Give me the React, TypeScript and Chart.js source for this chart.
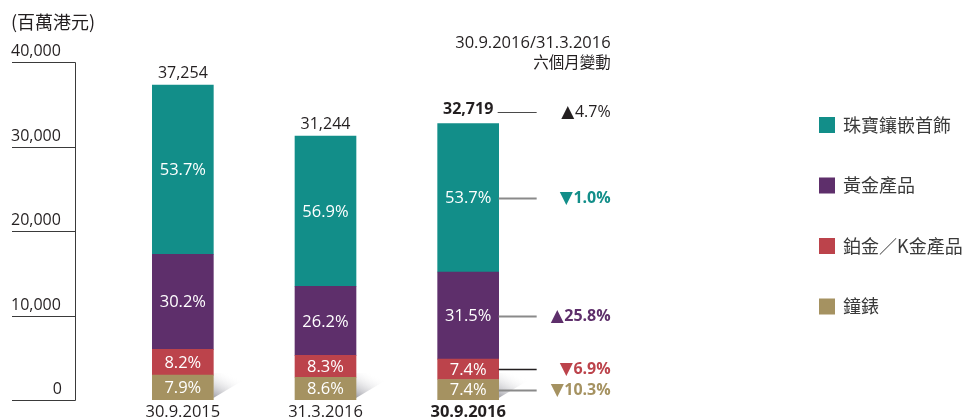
import React, { useEffect, useRef } from "react";
import { Chart, registerables } from "chart.js";

Chart.register(...registerables);

const categories = ["30.9.2015", "31.3.2016", "30.9.2016"];
const unitLabel = "(百萬港元)";
const headerLine1 = "30.9.2016/31.3.2016";
const headerLine2 = "六個月變動";

// bottom to top stacking order
const seriesNames = ["鐘錶", "鉑金／K金產品", "黃金產品", "珠寶鑲嵌首飾"];
const watches = [2943, 2687, 2422];
const platinum = [3055, 2593, 2421];
const goldProducts = [11251, 8186, 10306];
const jewellery = [20005, 17778, 17570];
const totals = [37254, 31244, 32719];
const totalLabels = ["37,254", "31,244", "32,719"];

const watchesPct = ["7.9%", "8.6%", "7.4%"];
const platinumPct = ["8.2%", "8.3%", "7.4%"];
const goldPct = ["30.2%", "26.2%", "31.5%"];
const jewelleryPct = ["53.7%", "56.9%", "53.7%"];

const totalChangeSymbol = "▲";
const totalChange = "4.7%";
const seriesChangeSymbols = ["▼", "▼", "▲", "▼"];
const seriesChanges = ["10.3%", "6.9%", "25.8%", "1.0%"];

const yTicks = [0, 10000, 20000, 30000, 40000];
const yTickLabels = ["0", "10,000", "20,000", "30,000", "40,000"];

const COLORS = ["#a59261", "#bc434b", "#5e2f6b", "#128e89"];
const LINE_COLORS = ["#8a8a8a", "#231f20", "#8a8a8a", "#8a8a8a"];
const TEXT = "#231f20";
const FONT = '"Open Sans", "Noto Sans CJK TC", sans-serif';
const CJK = '"Noto Sans CJK TC", "Open Sans", sans-serif';
const SYM = '"DejaVu Sans", sans-serif';
const f = (size: number, weight = "normal", fam = FONT) => `${weight} ${size}px ${fam}`;

const pctLabels = [watchesPct, platinumPct, goldPct, jewelleryPct];

function drawChange(ctx: any, sym: string, txt: string, right: number, y: number, color: string, weight: string) {
  ctx.save();
  ctx.fillStyle = color;
  ctx.textAlign = "right";
  ctx.textBaseline = "middle";
  ctx.font = f(16, weight);
  ctx.fillText(txt, right, y);
  const w = ctx.measureText(txt).width;
  ctx.font = f(17, "normal", SYM);
  ctx.fillText(sym, right - w - 0.5, y + 0.5);
  ctx.restore();
}

const decorPlugin = {
  id: "decor",
  beforeDatasetsDraw(chart: any) {
    const ctx = chart.ctx;
    const meta = chart.getDatasetMeta(0);
    ctx.save();
    meta.data.forEach((el: any) => {
      const right = el.x + el.width / 2;
      const floor = el.base - 2;
      const g = ctx.createLinearGradient(right, floor, right + 14, floor - 26);
      g.addColorStop(0, "rgba(135,135,145,0.8)");
      g.addColorStop(1, "rgba(255,255,255,0)");
      ctx.fillStyle = g;
      ctx.beginPath();
      ctx.moveTo(right, floor);
      ctx.lineTo(right, floor - 25);
      ctx.lineTo(right + 42, floor - 25);
      ctx.closePath();
      ctx.fill();
    });
    ctx.restore();
  },
  afterDatasetsDraw(chart: any) {
    const ctx = chart.ctx;
    const ys = chart.scales.y;
    const xs = chart.scales.x;
    ctx.save();

    // unit title
    ctx.fillStyle = TEXT;
    ctx.font = f(18, "normal", CJK);
    ctx.textAlign = "left";
    ctx.textBaseline = "middle";
    ctx.fillText(unitLabel, 11, 22);

    // y axis
    const axisX = 75.5;
    ctx.strokeStyle = "#3a3a3a";
    ctx.lineWidth = 1;
    ctx.beginPath();
    ctx.moveTo(axisX, Math.round(ys.getPixelForValue(yTicks[yTicks.length - 1])) + 0.5);
    ctx.lineTo(axisX, Math.round(ys.getPixelForValue(0)) + 0.5);
    ctx.stroke();
    yTicks.forEach((v, i) => {
      const y = Math.round(ys.getPixelForValue(v)) + 0.5;
      ctx.beginPath();
      ctx.moveTo(12, y);
      ctx.lineTo(axisX, y);
      ctx.stroke();
      ctx.font = f(16);
      ctx.fillStyle = TEXT;
      ctx.textBaseline = "middle";
      if (v === 0) {
        ctx.textAlign = "right";
        ctx.fillText(yTickLabels[i], 62, y - 11);
      } else {
        ctx.textAlign = "left";
        ctx.fillText(yTickLabels[i], 11, y - 11);
      }
    });

    // percent labels inside segments
    chart.data.datasets.forEach((ds: any, di: number) => {
      const meta = chart.getDatasetMeta(di);
      meta.data.forEach((el: any, i: number) => {
        ctx.fillStyle = "#ffffff";
        ctx.font = f(16.5);
        ctx.textAlign = "center";
        ctx.textBaseline = "middle";
        ctx.fillText(pctLabels[di][i], el.x, (el.y + el.base) / 2 + 1);
      });
    });

    // totals and category labels
    const last = categories.length - 1;
    categories.forEach((c, i) => {
      const x = xs.getPixelForValue(i);
      const top = ys.getPixelForValue(totals[i]);
      ctx.fillStyle = TEXT;
      ctx.textAlign = "center";
      ctx.textBaseline = "middle";
      ctx.font = f(16, i === last ? "bold" : "normal");
      ctx.fillText(totalLabels[i], x, top - (i === last ? 14 : 12));
      ctx.font = f(16.5, i === last ? "bold" : "normal");
      ctx.fillText(c, x, 412);
    });

    // change annotations for last bar
    const lastMeta = chart.getDatasetMeta(chart.data.datasets.length - 1);
    const lastEl = lastMeta.data[last];
    const barRight = lastEl.x + lastEl.width / 2;
    const lineEnd = barRight + 38;
    const textRight = barRight + 112;

    ctx.fillStyle = TEXT;
    ctx.textAlign = "right";
    ctx.textBaseline = "middle";
    ctx.font = f(16.5);
    ctx.fillText(headerLine1, textRight, 43);
    ctx.font = f(15.5, "normal", CJK);
    ctx.fillText(headerLine2, textRight, 62);

    const totalY = Math.round(ys.getPixelForValue(totals[last]) - 12) + 0.5;
    ctx.strokeStyle = "#4a4a4a";
    ctx.lineWidth = 1;
    ctx.beginPath();
    ctx.moveTo(barRight - 1, totalY);
    ctx.lineTo(lineEnd, totalY);
    ctx.stroke();
    drawChange(ctx, totalChangeSymbol, totalChange, textRight, totalY, TEXT, "normal");

    chart.data.datasets.forEach((ds: any, di: number) => {
      const el = chart.getDatasetMeta(di).data[last];
      const y = Math.round((el.y + el.base) / 2) + 0.5;
      ctx.strokeStyle = LINE_COLORS[di];
      ctx.lineWidth = di === 1 ? 1.3 : 2;
      ctx.beginPath();
      ctx.moveTo(barRight, y);
      ctx.lineTo(lineEnd, y);
      ctx.stroke();
      drawChange(ctx, seriesChangeSymbols[di], seriesChanges[di], textRight, y, COLORS[di], "bold");
    });

    // legend (top to bottom)
    const order = [3, 2, 1, 0];
    order.forEach((di, k) => {
      const cy = 125 + k * 60.5;
      ctx.fillStyle = COLORS[di];
      ctx.fillRect(819, cy - 8, 16, 16);
      ctx.fillStyle = "#3a3a3a";
      ctx.font = f(18, "normal", CJK);
      ctx.textAlign = "left";
      ctx.textBaseline = "middle";
      ctx.fillText(seriesNames[di], 843, cy);
    });

    ctx.restore();
  },
};

export default function App() {
  const ref = useRef<HTMLCanvasElement | null>(null);
  useEffect(() => {
    if (!ref.current) return;
    const series = [watches, platinum, goldProducts, jewellery];
    const chart = new Chart(ref.current, {
      type: "bar",
      data: {
        labels: categories,
        datasets: series.map((d, i) => ({
          label: seriesNames[i],
          data: d,
          backgroundColor: COLORS[i],
          borderWidth: 0,
          barThickness: 61,
        })),
      },
      options: {
        responsive: false,
        animation: false,
        devicePixelRatio: 1,
        layout: { padding: { left: 111.5, right: 426.5, top: 62, bottom: 20 } },
        plugins: { legend: { display: false }, tooltip: { enabled: false } },
        scales: {
          x: { stacked: true, display: false },
          y: { stacked: true, display: false, min: 0, max: 40000 },
        },
      },
      plugins: [decorPlugin],
    });
    return () => chart.destroy();
  }, []);
  return (
    <div style={{ position: "fixed", left: 0, top: 0, width: 966, height: 420, background: "#fff" }}>
      <canvas ref={ref} width={966} height={420} />
    </div>
  );
}
